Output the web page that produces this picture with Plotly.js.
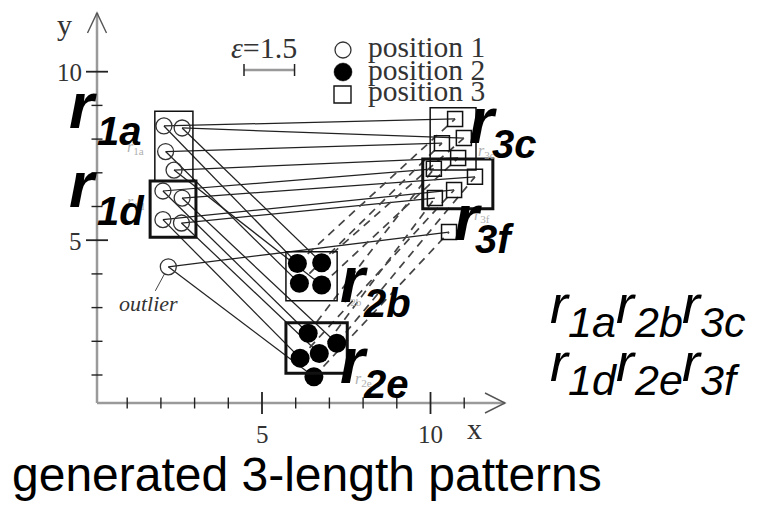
<!DOCTYPE html>
<html>
<head>
<meta charset="utf-8">
<script src="https://cdn.plot.ly/plotly-3.0.1.min.js"></script>
<style>
  html, body { margin: 0; padding: 0; background: #fff; }
  #chart { width: 762px; height: 505px; }
</style>
</head>
<body>
<div id="chart"></div>
<script>
// ---- data -------------------------------------------------------------
// one entry per moving object; the last one is the outlier
const pos1X = [2.09, 2.63, 2.14, 2.39, 2.06, 2.63, 2.06, 2.61, 2.22];
const pos1Y = [8.39, 8.33, 7.63, 7.08, 6.46, 6.25, 5.61, 5.51, 4.21];
const pos2X = [6.05, 6.77, 6.11, 6.77, 6.37, 7.22, 6.13, 6.70, 6.54];
const pos2Y = [4.31, 4.33, 3.72, 3.67, 2.24, 1.94, 1.50, 1.64, 0.95];
const pos3X = [10.73, 10.99, 10.34, 10.82, 10.10, 11.32, 10.70, 10.13, 10.55];
const pos3Y = [8.60, 8.03, 7.88, 7.44, 7.12, 6.88, 6.49, 6.25, 5.24];
const outlierIndex = 8;

// dense regions (rectangles in data units)
const regionNames = ['1a', '1d', '2b', '2e', '3c', '3f'];
const regionX0 = [1.82, 1.68, 5.71, 5.71, 9.99, 9.77];
const regionX1 = [2.95, 3.04, 7.23, 7.53, 11.35, 11.85];
const regionY0 = [6.76, 5.09, 3.20, 1.05, 7.08, 5.93];
const regionY1 = [8.83, 6.76, 4.66, 2.55, 8.93, 7.41];

// the two generated patterns
const patterns = [['1a', '2b', '3c'], ['1d', '2e', '3f']];

// axes
const xTickVals = [1, 2, 3, 4, 5, 6, 7, 8, 9, 10, 11];
const yTickVals = [1, 2, 3, 4, 5, 6, 7, 8, 9, 10];
const xTickLabels = ['5', '10'];
const yTickLabels = ['5', '10'];
const epsilon = 1.5;
const legendLabels = ['position 1', 'position 2', 'position 3'];
const chartTitle = 'generated 3-length patterns';

// ---- geometry helpers -------------------------------------------------
const W = 762, H = 505;
const PX_PER_UNIT = 33.7;
const X_RANGE = [-93.5 / PX_PER_UNIT, (W - 93.5) / PX_PER_UNIT];
const Y_RANGE = [(408.7 - H) / PX_PER_UNIT, 408.7 / PX_PER_UNIT];
const u = p => p / PX_PER_UNIT;           // pixels -> data units
const px = x => x / W;                    // pixel column -> paper x
const py = y => 1 - y / H;                // pixel row -> paper y

function segs(ax, ay, bx, by) {
  const xs = [], ys = [];
  for (let i = 0; i < ax.length; i++) {
    xs.push(ax[i], bx[i], null);
    ys.push(ay[i], by[i], null);
  }
  return { x: xs, y: ys };
}

const s13 = segs(pos1X, pos1Y, pos3X, pos3Y);
const s12 = segs(pos1X, pos1Y, pos2X, pos2Y);
const s23 = segs(pos2X, pos2Y, pos3X, pos3Y);

const traces = [
  { x: s13.x, y: s13.y, mode: 'lines', line: { color: '#222', width: 1.25 }, hoverinfo: 'skip' },
  { x: s12.x, y: s12.y, mode: 'lines', line: { color: '#222', width: 1.25 }, hoverinfo: 'skip' },
  { x: s23.x, y: s23.y, mode: 'lines', line: { color: '#444', width: 1.7, dash: '8px,6px' }, hoverinfo: 'skip' },
  { x: pos1X, y: pos1Y, mode: 'markers', name: legendLabels[0],
    marker: { symbol: 'circle-open', size: 16, color: '#333', line: { width: 1.3 } } },
  { x: pos2X, y: pos2Y, mode: 'markers', name: legendLabels[1],
    marker: { symbol: 'circle', size: 19, color: '#000', line: { width: 0 } } },
  { x: pos3X, y: pos3Y, mode: 'markers', name: legendLabels[2],
    marker: { symbol: 'square-open', size: 15, color: '#111', line: { width: 1.5 } } }
];

// ---- shapes -----------------------------------------------------------
const shapes = [];
const AXIS_GRAY = '#9a9a9a';
const axisX0 = u(3.5), axisY0 = u(5.7);   // where the two axes meet
const xEnd = u(505 - 93.5), yEnd = u(408.7 - 13);

shapes.push({ type: 'line', x0: axisX0, y0: axisY0, x1: xEnd, y1: axisY0, line: { color: AXIS_GRAY, width: 2.5 } });
shapes.push({ type: 'line', x0: axisX0, y0: axisY0, x1: axisX0, y1: yEnd, line: { color: AXIS_GRAY, width: 2.5 } });
// open arrow heads
shapes.push({ type: 'path', path: `M${xEnd - u(20)},${axisY0 + u(10)} L${xEnd},${axisY0} L${xEnd - u(20)},${axisY0 - u(10)}`,
  line: { color: '#555', width: 1.4 } });
shapes.push({ type: 'path', path: `M${axisX0 - u(9.5)},${yEnd - u(20)} L${axisX0},${yEnd} L${axisX0 + u(9.5)},${yEnd - u(20)}`,
  line: { color: '#555', width: 1.4 } });

xTickVals.forEach(v => {
  const major = v % 5 === 0;
  const h = u(major ? 11 : 5.5);
  shapes.push({ type: 'line', x0: v, x1: v, y0: axisY0 - h, y1: axisY0 + h, line: { color: '#222', width: major ? 1.8 : 1.4 } });
});
yTickVals.forEach(v => {
  const major = v % 5 === 0;
  const h = u(major ? 11 : 5.5);
  shapes.push({ type: 'line', y0: v, y1: v, x0: axisX0 - h, x1: axisX0 + h, line: { color: '#222', width: major ? 1.8 : 1.4 } });
});

// region rectangles: the second pattern is drawn heavier
regionNames.forEach((n, i) => {
  const heavy = patterns[1].indexOf(n) >= 0;
  shapes.push({ type: 'rect', x0: regionX0[i], x1: regionX1[i], y0: regionY0[i], y1: regionY1[i],
    line: { color: '#111', width: heavy ? 3 : 1.5 }, fillcolor: 'rgba(0,0,0,0)' });
});

// epsilon scale bar
const barX0 = u(244 - 93.5), barY = u(408.7 - 70);
shapes.push({ type: 'line', x0: barX0, x1: barX0 + epsilon, y0: barY, y1: barY, line: { color: '#999', width: 2.5 } });
[barX0, barX0 + epsilon].forEach(x => {
  shapes.push({ type: 'line', x0: x, x1: x, y0: barY - u(6), y1: barY + u(6), line: { color: '#222', width: 1.5 } });
});

// legend keys
shapes.push({ type: 'circle', xref: 'paper', yref: 'paper', x0: px(335), x1: px(351), y0: py(42), y1: py(58), line: { color: '#333', width: 1.3 } });
shapes.push({ type: 'circle', xref: 'paper', yref: 'paper', x0: px(334), x1: px(352), y0: py(63), y1: py(81), fillcolor: '#000', line: { color: '#000', width: 0.5 } });
shapes.push({ type: 'rect', xref: 'paper', yref: 'paper', x0: px(334), x1: px(351), y0: py(86), y1: py(103), line: { color: '#111', width: 1.4 } });

// ---- annotations -------------------------------------------------------
const annotations = [];
function addText(text, xPix, baseline, size, family, opts) {
  const asc = family.indexOf('Serif') >= 0 ? 0.891 : 0.905;
  annotations.push(Object.assign({
    text: text, xref: 'paper', yref: 'paper', x: px(xPix), y: py(baseline - asc * size),
    xanchor: 'left', yanchor: 'top', showarrow: false, borderpad: 0, borderwidth: 0,
    font: { family: family, size: size, color: '#000' }
  }, opts || {}));
}
const SERIF = 'Liberation Serif, Times New Roman, serif';
const SANS = 'Liberation Sans, Arial, sans-serif';

// small grey region names beside each rectangle (mostly covered by the big labels)
const smallLabelPos = { '1a': [127, 152], '1d': [127, 207], '2b': [344, 303], '2e': [355, 384], '3c': [478, 156], '3f': [474, 220] };
regionNames.forEach(n => {
  const p = smallLabelPos[n];
  addText('<i>r</i><sub>' + n + '</sub>', p[0], p[1], 16, SERIF, { font: { family: SERIF, size: 16, color: '#b0b0b0' } });
});

// axis titles and tick labels
addText('y', 57, 35, 30, SERIF, { font: { family: SERIF, size: 30, color: '#333' } });
addText('x', 467, 439, 30, SERIF, { font: { family: SERIF, size: 30, color: '#333' } });
yTickLabels.forEach(t => {
  const v = +t;
  annotations.push({ text: t, xref: 'x', yref: 'y', x: axisX0, y: v, xanchor: 'right', yanchor: 'middle',
    xshift: -14, yshift: -1, showarrow: false, borderpad: 0, font: { family: SERIF, size: 25, color: '#333' } });
});
xTickLabels.forEach(t => {
  const v = +t;
  annotations.push({ text: t, xref: 'x', yref: 'y', x: v, y: axisY0, xanchor: 'center', yanchor: 'top',
    yshift: -17, showarrow: false, borderpad: 0, font: { family: SERIF, size: 25, color: '#333' } });
});

// scale bar label and legend text
addText('<i>ε</i>=1.5', 231, 58, 30, SERIF, { font: { family: SERIF, size: 30, color: '#333' } });
legendLabels.forEach((t, i) => {
  addText(t, 368, [57, 80, 101.5][i], 29.5, SERIF, { font: { family: SERIF, size: 29.5, color: '#333' } });
});

// outlier callout
annotations.push({ text: '<i>outlier</i>', xref: 'x', yref: 'y', x: pos1X[outlierIndex], y: pos1Y[outlierIndex],
  ax: -20, ay: 37, showarrow: true, arrowhead: 0, arrowwidth: 1, arrowcolor: '#444', standoff: 8,
  borderpad: 0, font: { family: SERIF, size: 22, color: '#333' } });

// big region labels: "r" plus subscript
const labelPos = {   // [r left, r baseline, sub left, sub baseline] in pixels
  '1a': [69, 128.3, 97, 145],
  '1d': [69, 206.7, 97, 225],
  '2b': [340, 301.7, 363, 316.7],
  '2e': [340, 383, 363, 398],
  '3c': [469, 143, 492, 158],
  '3f': [454, 240, 475, 253]
};
const BI = { family: SANS, size: 64, color: '#000', weight: 'bold', style: 'italic' };
regionNames.forEach(n => {
  const p = labelPos[n];
  addText('r', p[0], p[1], 64, SANS, { font: BI });
  addText(n, p[2], p[3], 40, SANS, { font: Object.assign({}, BI, { size: 40 }) });
});

// pattern formulas on the right: italic r with a large subscript
const FORM_R = 54, FORM_SUB = 43;
const ITALIC_ADV = { r: 0.333, '1': 0.556, '2': 0.556, '3': 0.556, a: 0.556, b: 0.556, c: 0.5, d: 0.556, e: 0.556, f: 0.278 };
const FORM_FONT = s => ({ family: SANS, size: s, color: '#000', style: 'italic' });
patterns.forEach((pat, k) => {
  const base = [323, 381][k];
  let x = 550;
  pat.forEach(n => {
    addText('r', x, base, FORM_R, SANS, { font: FORM_FONT(FORM_R) });
    x += ITALIC_ADV.r * FORM_R;
    addText(n, x, base + 14, FORM_SUB, SANS, { font: FORM_FONT(FORM_SUB) });
    x += (ITALIC_ADV[n[0]] + ITALIC_ADV[n[1]]) * FORM_SUB;
  });
});

// caption
addText(chartTitle, 12, 491, 48, SANS, { font: { family: SANS, size: 48, color: '#000' } });

const layout = {
  width: W, height: H,
  margin: { l: 0, r: 0, t: 0, b: 0, pad: 0 },
  paper_bgcolor: '#fff', plot_bgcolor: '#fff',
  showlegend: false,
  xaxis: { range: X_RANGE, visible: false, fixedrange: true },
  yaxis: { range: Y_RANGE, visible: false, fixedrange: true },
  shapes: shapes,
  annotations: annotations
};

Plotly.newPlot('chart', traces, layout, { staticPlot: true, displayModeBar: false });
</script>
</body>
</html>
